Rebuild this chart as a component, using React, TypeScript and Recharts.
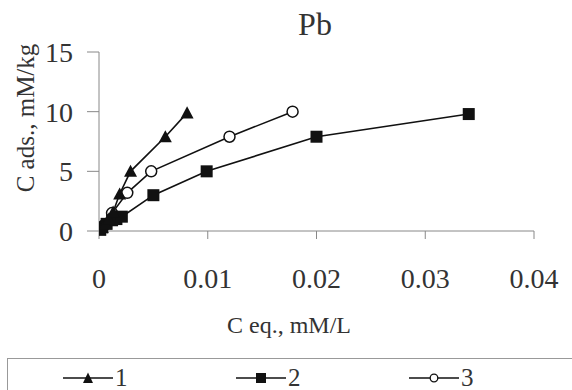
import { LineChart, Line, XAxis, YAxis, Label } from 'recharts'

type Pt = { x: number; y: number }

// Ceq (mM/L) and Cads (mM/kg)
const ceq1 = [0.0001, 0.0003, 0.0006, 0.0009, 0.0013, 0.0019, 0.0029, 0.0061, 0.0081]
const cads1 = [0.1, 0.3, 0.6, 1.0, 1.6, 3.1, 5.0, 7.9, 9.9]
const ceq2 = [0.0001, 0.0003, 0.0007, 0.0012, 0.0016, 0.0021, 0.005, 0.0099, 0.02, 0.034]
const cads2 = [0.1, 0.3, 0.6, 0.9, 1.0, 1.2, 3.0, 5.0, 7.9, 9.8]
const ceq3 = [0.0002, 0.0005, 0.0012, 0.0026, 0.0048, 0.012, 0.0178]
const cads3 = [0.2, 0.5, 1.5, 3.2, 5.0, 7.9, 10.0]

const xTicks = [0, 0.01, 0.02, 0.03, 0.04]
const yTicks = [0, 5, 10, 15]
const seriesNames = ['1', '2', '3']

const zip = (xs: number[], ys: number[]): Pt[] => xs.map((x, i) => ({ x, y: ys[i] }))
const s1 = zip(ceq1, cads1)
const s2 = zip(ceq2, cads2)
const s3 = zip(ceq3, cads3)

const FONT = 'Liberation Serif, Times New Roman, DejaVu Serif, serif'
const TEXT = '#333'
const AXIS = '#888'

const Triangle = (p: any) => {
  const { cx, cy, key } = p
  if (cx == null || cy == null) return null
  const s = 6.5
  return <polygon key={key} points={`${cx},${cy - s} ${cx + s},${cy + s * 0.85} ${cx - s},${cy + s * 0.85}`} fill="#111" />
}
const Square = (p: any) => {
  const { cx, cy, key } = p
  if (cx == null || cy == null) return null
  return <rect key={key} x={cx - 6} y={cy - 6} width={12} height={12} fill="#111" />
}
const Circle = (p: any) => {
  const { cx, cy, key } = p
  if (cx == null || cy == null) return null
  return <circle key={key} cx={cx} cy={cy} r={5.5} fill="#fff" stroke="#111" strokeWidth={1.5} />
}

function LegendIcon({ kind }: { kind: number }) {
  return (
    <svg width={50} height={14} style={{ display: 'block' }}>
      <line x1={0} y1={7} x2={50} y2={7} stroke="#111" strokeWidth={1.5} />
      {kind === 0 && <polygon points="25,1.5 30,12 20,12" fill="#111" />}
      {kind === 1 && <rect x={20} y={2} width={10} height={10} fill="#111" />}
      {kind === 2 && <circle cx={25} cy={7} r={3.8} fill="#fff" stroke="#111" strokeWidth={1.3} />}
    </svg>
  )
}

export default function App() {
  return (
    <div style={{ position: 'absolute', left: 0, top: 0, width: 572, height: 390, overflow: 'hidden', background: '#fff' }}>
      <LineChart width={572} height={390} data={s2} margin={{ top: 52, right: 38, left: 0, bottom: 99 }}>
        <XAxis
          type="number"
          dataKey="x"
          domain={[0, 0.04]}
          ticks={xTicks}
          tickFormatter={(v: number) => String(v)}
          height={60}
          stroke={AXIS}
          tickSize={8}
          tickMargin={29}
          tick={{ fill: TEXT, fontSize: 28, fontFamily: FONT }}
          allowDataOverflow
        >
          <Label
            content={() => (
              <text x={289} y={333} textAnchor="middle" fill={TEXT} fontSize={24} fontFamily={FONT}>
                C eq., mM/L
              </text>
            )}
          />
        </XAxis>
        <YAxis
          type="number"
          dataKey="y"
          domain={[0, 15]}
          ticks={yTicks}
          width={99}
          stroke={AXIS}
          tickSize={12}
          tickMargin={14}
          tick={{ fill: TEXT, fontSize: 28, fontFamily: FONT }}
        >
          <Label
            content={() => (
              <text x={34} y={118} transform="rotate(-90 34 118)" textAnchor="middle" fill={TEXT} fontSize={25} fontFamily={FONT}>
                C ads., mM/kg
              </text>
            )}
          />
        </YAxis>
        <text x={315} y={35} textAnchor="middle" fill={TEXT} fontSize={32} fontFamily={FONT}>
          Pb
        </text>
        {/* circles first so the filled markers cover them near the origin */}
        <Line data={s3} dataKey="y" type="linear" stroke="#111" strokeWidth={1.6} dot={Circle} isAnimationActive={false} />
        <Line data={s2} dataKey="y" type="linear" stroke="#111" strokeWidth={1.6} dot={Square} isAnimationActive={false} />
        <Line data={s1} dataKey="y" type="linear" stroke="#111" strokeWidth={1.6} dot={Triangle} isAnimationActive={false} />
      </LineChart>

      {/* legend box, runs off the right and bottom edges */}
      <div style={{ position: 'absolute', left: 7, top: 358, width: 580, height: 50, border: '1.5px solid #999', boxSizing: 'border-box' }}>
        {seriesNames.map((n, i) => (
          <div
            key={n}
            style={{ position: 'absolute', left: 55 + i * 173, top: 6, display: 'flex', alignItems: 'center', gap: 2, fontFamily: FONT, fontSize: 25, color: TEXT, lineHeight: '25px' }}
          >
            <LegendIcon kind={i} />
            <span>{n}</span>
          </div>
        ))}
      </div>
    </div>
  )
}
